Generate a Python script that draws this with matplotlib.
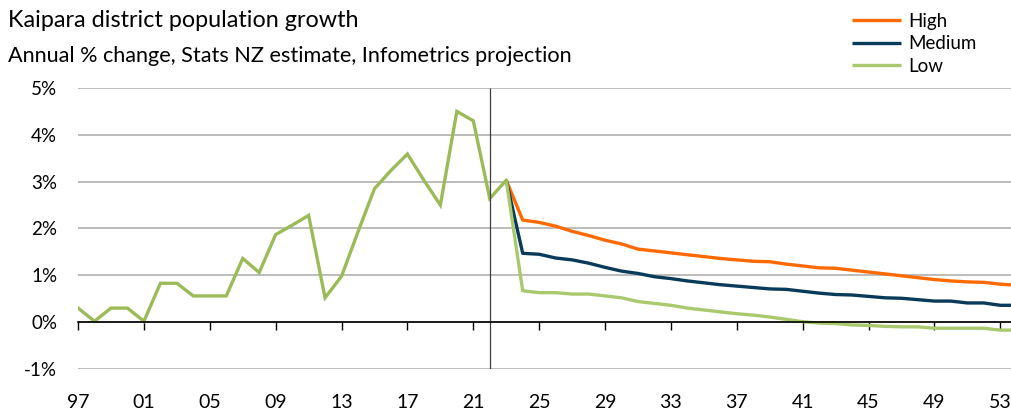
import matplotlib.pyplot as plt

plt.rcParams['font.family'] = ['Lato', 'DejaVu Sans']

# historic annual % change (Stats NZ estimate)
hist_years = list(range(1997, 2024))
hist_vals = [0.30, 0.02, 0.30, 0.30, 0.02, 0.83, 0.83, 0.56, 0.56, 0.56,
             1.36, 1.06, 1.87, 2.07, 2.28, 0.52, 0.98, 1.93, 2.85, 3.24,
             3.59, 3.03, 2.50, 4.50, 4.30, 2.64, 3.03]

# projections (Infometrics), starting from 2023
proj_years = list(range(2023, 2055))
high = [3.03, 2.18, 2.13, 2.05, 1.94, 1.85, 1.75, 1.67, 1.56, 1.52, 1.48,
        1.44, 1.40, 1.36, 1.33, 1.30, 1.29, 1.24, 1.20, 1.16, 1.15, 1.11,
        1.07, 1.03, 0.99, 0.95, 0.91, 0.88, 0.86, 0.85, 0.81, 0.79]
medium = [3.03, 1.47, 1.45, 1.37, 1.33, 1.26, 1.17, 1.09, 1.04, 0.97, 0.93,
          0.88, 0.84, 0.80, 0.77, 0.74, 0.71, 0.70, 0.66, 0.62, 0.59, 0.58,
          0.55, 0.52, 0.51, 0.48, 0.45, 0.45, 0.41, 0.41, 0.36, 0.36]
low = [3.03, 0.67, 0.63, 0.63, 0.60, 0.60, 0.56, 0.52, 0.44, 0.40, 0.36,
       0.30, 0.26, 0.22, 0.18, 0.15, 0.11, 0.06, 0.01, -0.02, -0.03, -0.06,
       -0.07, -0.09, -0.10, -0.10, -0.13, -0.13, -0.13, -0.13, -0.17, -0.17]

tick_years = list(range(1997, 2054, 4))
split_year = 2022

fig = plt.figure(figsize=(10.11, 4.12), dpi=100)
ax = fig.add_axes([0.0772, 0.1044, 0.9228, 0.682])

# spine first: moving it resets the ticks
for s in ['top', 'right', 'left']:
    ax.spines[s].set_visible(False)
ax.spines['bottom'].set_position(('data', 0))
ax.spines['bottom'].set_color('black')
ax.spines['bottom'].set_linewidth(1.2)

ax.plot(proj_years, high, color='#FF6A00', lw=2.4, label='High', solid_capstyle='butt')
ax.plot(proj_years, medium, color='#0A3A5A', lw=2.4, label='Medium', solid_capstyle='butt')
ax.plot(proj_years, low, color='#A9C96E', lw=2.4, label='Low', solid_capstyle='butt')
ax.plot(hist_years, hist_vals, color='#9BBB59', lw=2.4, solid_joinstyle='miter')

ax.set_xlim(1997, 2053.65)
ax.set_ylim(-1, 5)
# divider between estimate and projection
ax.plot([split_year, split_year], [-1, 5], color='#404040', lw=0.9,
        solid_capstyle='butt', clip_on=True)

ax.set_yticks(range(-1, 6))
ax.set_yticklabels([f'{v}%' for v in range(-1, 6)])
ax.grid(axis='y', color='#B0B0B0', lw=1.2)
ax.set_axisbelow(True)

ax.set_xticks(tick_years)
ax.set_xticklabels([f'{y % 100:02d}' for y in tick_years])
ax.tick_params(axis='x', direction='out', length=6, width=1, pad=46, labelsize=14)
ax.tick_params(axis='y', length=0, pad=15, labelsize=13.5)

fig.text(0.008, 0.95, 'Kaipara district population growth', fontsize=16.8,
         va='center', ha='left')
fig.text(0.008, 0.865, 'Annual % change, Stats NZ estimate, Infometrics projection',
         fontsize=15.6, va='center', ha='left')

ax.legend(loc='upper left', bbox_to_anchor=(0.826, 1.01), bbox_transform=fig.transFigure,
          frameon=False, fontsize=13.5, handlelength=2.6, labelspacing=0.3,
          handletextpad=0.4)

fig.savefig('out.png', dpi=100)
